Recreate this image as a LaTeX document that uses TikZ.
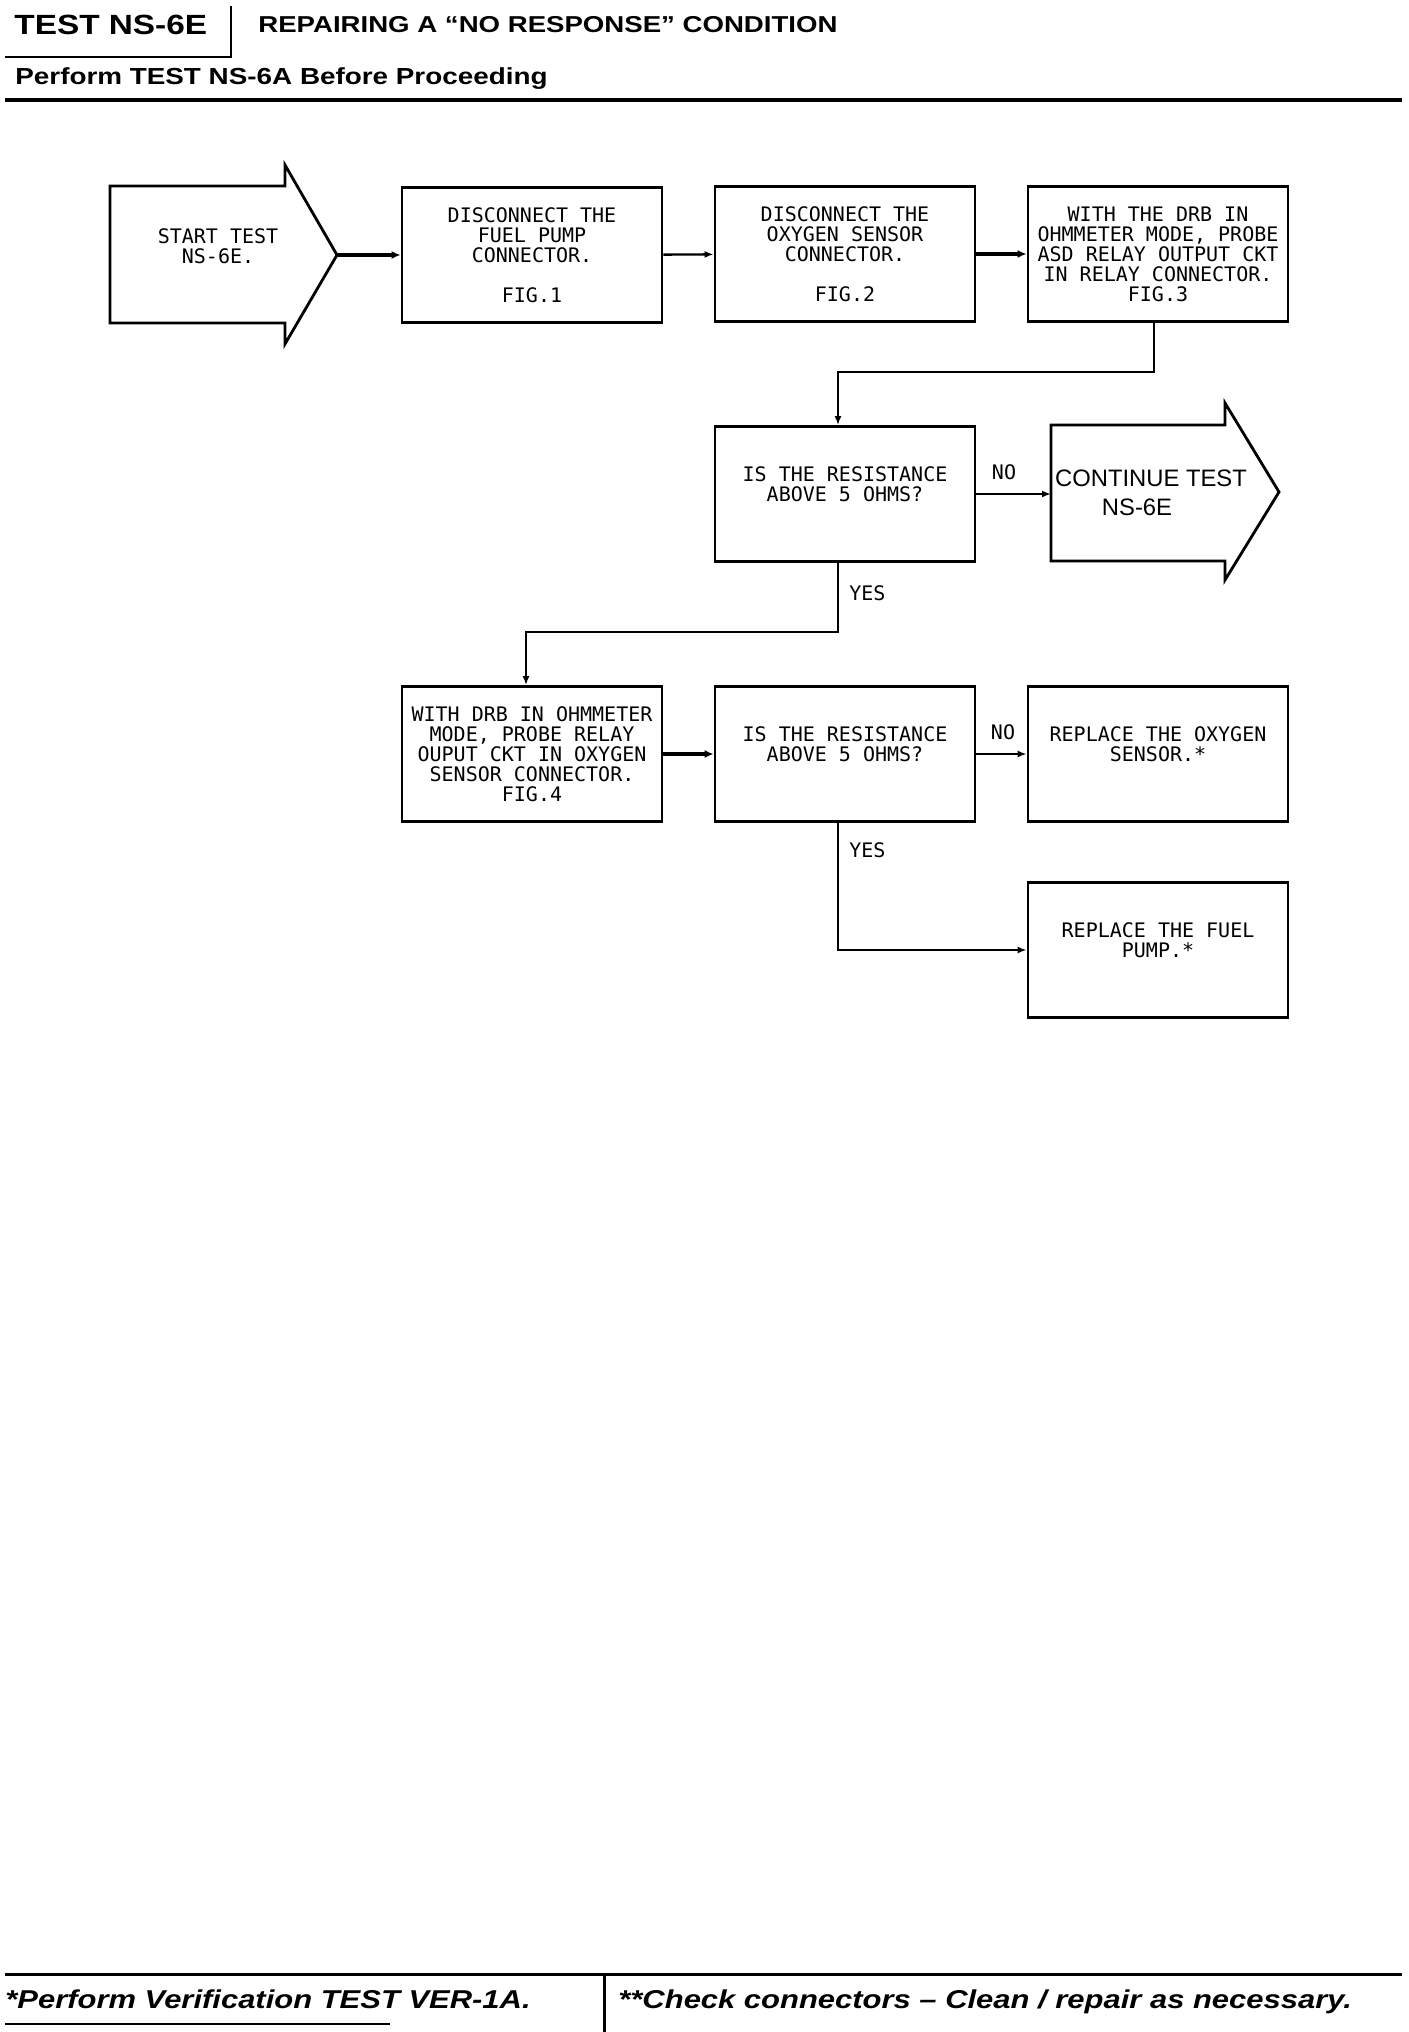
\documentclass[tikz,border=0pt]{standalone}
\usepackage{fontspec}
\usepackage{tikz}
\usetikzlibrary{arrows.meta}
\newfontfamily\hdrfont[FakeStretch=1.2]{Liberation Sans}
\newfontfamily\plotfont{DejaVu Sans Mono}
\newfontfamily\contfont{Liberation Sans}

\begin{document}
\begin{tikzpicture}[x=0.5pt, y=-0.5pt,
      box/.style={draw, line width=1.4pt, minimum width=130pt, minimum height=67.5pt,
                  inner sep=0pt, align=center, font=\plotfont\fontsize{10}{10}\selectfont},
      plot/.style={inner sep=0pt, align=center, font=\plotfont\fontsize{10}{10}\selectfont},
      outline/.style={line width=1.4pt, line join=miter},
      flow/.style={line width=1.2pt, -{Latex[length=4.5pt, width=3.5pt]}},
      heavyflow/.style={line width=2.4pt, -{Latex[length=4.5pt, width=4pt]}},
      rule/.style={line width=1.3pt}]
      \useasboundingbox (0,0) rectangle (1408,2032);
      \node[anchor=base west, inner sep=0pt, font=\hdrfont\bfseries\fontsize{13.9}{14}\selectfont]
        (testname) at (14,35) {TEST NS-6E};
      \node[anchor=base west, inner sep=0pt, font=\hdrfont\bfseries\fontsize{11.5}{12}\selectfont]
        (title) at (258,33) {REPAIRING A “NO RESPONSE” CONDITION};
      \node[anchor=base west, inner sep=0pt, font=\hdrfont\bfseries\fontsize{11.6}{12}\selectfont]
        (before) at (15,85) {Perform TEST NS-6A Before Proceeding};
      \draw[rule] (231,6) -- (231,58);
      \draw[rule] (5,57) -- (231,57);
      \draw[line width=2pt] (5,100) -- (1402,100);
      \draw[outline] (110,186) -- (285,186) -- (285,165) -- (337,255) -- (285,344)
        -- (285,323) -- (110,323) -- cycle;
      \coordinate (starttip) at (337,255);
      \node[plot] (starttext) at (218,246) {START TEST\\NS-6E.};
      \node[box] (pump) at (532,255) {DISCONNECT THE\\FUEL PUMP\\CONNECTOR.\\~\\FIG.1};
      \node[box] (sensor) at (845,254) {DISCONNECT THE\\OXYGEN SENSOR\\CONNECTOR.\\~\\FIG.2};
      \node[box] (relay) at (1158,254) {WITH THE DRB IN\\OHMMETER MODE, PROBE\\ASD RELAY OUTPUT CKT\\IN RELAY CONNECTOR.\\FIG.3};
      \node[box] (ask1) at (845,494) {IS THE RESISTANCE\\ABOVE 5 OHMS?\\~};
      \draw[outline] (1051,425) -- (1225,425) -- (1225,403) -- (1279,492) -- (1225,580)
        -- (1225,561) -- (1051,561) -- cycle;
      \coordinate (contin) at (1051,494);
      \node[anchor=base, inner sep=0pt, font=\contfont\fontsize{11.9}{14}\selectfont]
        (contline) at (1151,487) {CONTINUE TEST};
      \node[anchor=base, inner sep=0pt, font=\contfont\fontsize{11.9}{14}\selectfont]
        (contname) at (1137,515) {NS-6E};
      \node[box] (probe) at (532,754) {WITH DRB IN OHMMETER\\MODE, PROBE RELAY\\OUPUT CKT IN OXYGEN\\SENSOR CONNECTOR.\\FIG.4};
      \node[box] (ask2) at (845,754) {IS THE RESISTANCE\\ABOVE 5 OHMS?\\~};
      \node[box] (oxygen) at (1158,754) {REPLACE THE OXYGEN\\SENSOR.*\\~};
      \node[box] (fuel) at (1158,950) {REPLACE THE FUEL\\PUMP.*\\~};
      \draw[heavyflow] (starttip) -- (pump);
      \draw[flow] (pump) -- (sensor);
      \draw[heavyflow] (sensor) -- (relay);
      \draw[flow] ([xshift=-2pt]relay.south) -- ++(0,49) -| ([xshift=-3.5pt]ask1.north);
      \draw[flow] (ask1.east) -- (contin);
      \node[plot] (no1) at (1004,472) {NO};
      \draw[flow] ([xshift=-3.5pt]ask1.south) -- ++(0,69) -| ([xshift=-3pt]probe.north);
      \node[plot, anchor=west] (yes1) at (849,593) {YES};
      \draw[heavyflow] (probe) -- (ask2);
      \draw[flow] (ask2) -- (oxygen);
      \node[plot] (no2) at (1003,732) {NO};
      \draw[flow] ([xshift=-3.5pt]ask2.south) |- (fuel.west);
      \node[plot, anchor=west] (yes2) at (849,850) {YES};
      \draw[line width=1.5pt] (5,1974) -- (1402,1974);
      \draw[line width=1.5pt] (604,1974) -- (604,2032);
      \draw[line width=1.2pt] (5,2024) -- (390,2024);
      \node[anchor=base west, inner sep=0pt, font=\hdrfont\bfseries\itshape\fontsize{12.9}{13}\selectfont]
        (verify) at (5,2008) {*Perform Verification TEST VER-1A.};
      \node[anchor=base west, inner sep=0pt, font=\hdrfont\bfseries\itshape\fontsize{12.9}{13}\selectfont]
        (check) at (618,2008) {**Check connectors – Clean / repair as necessary.};
    \end{tikzpicture}
\end{document}
